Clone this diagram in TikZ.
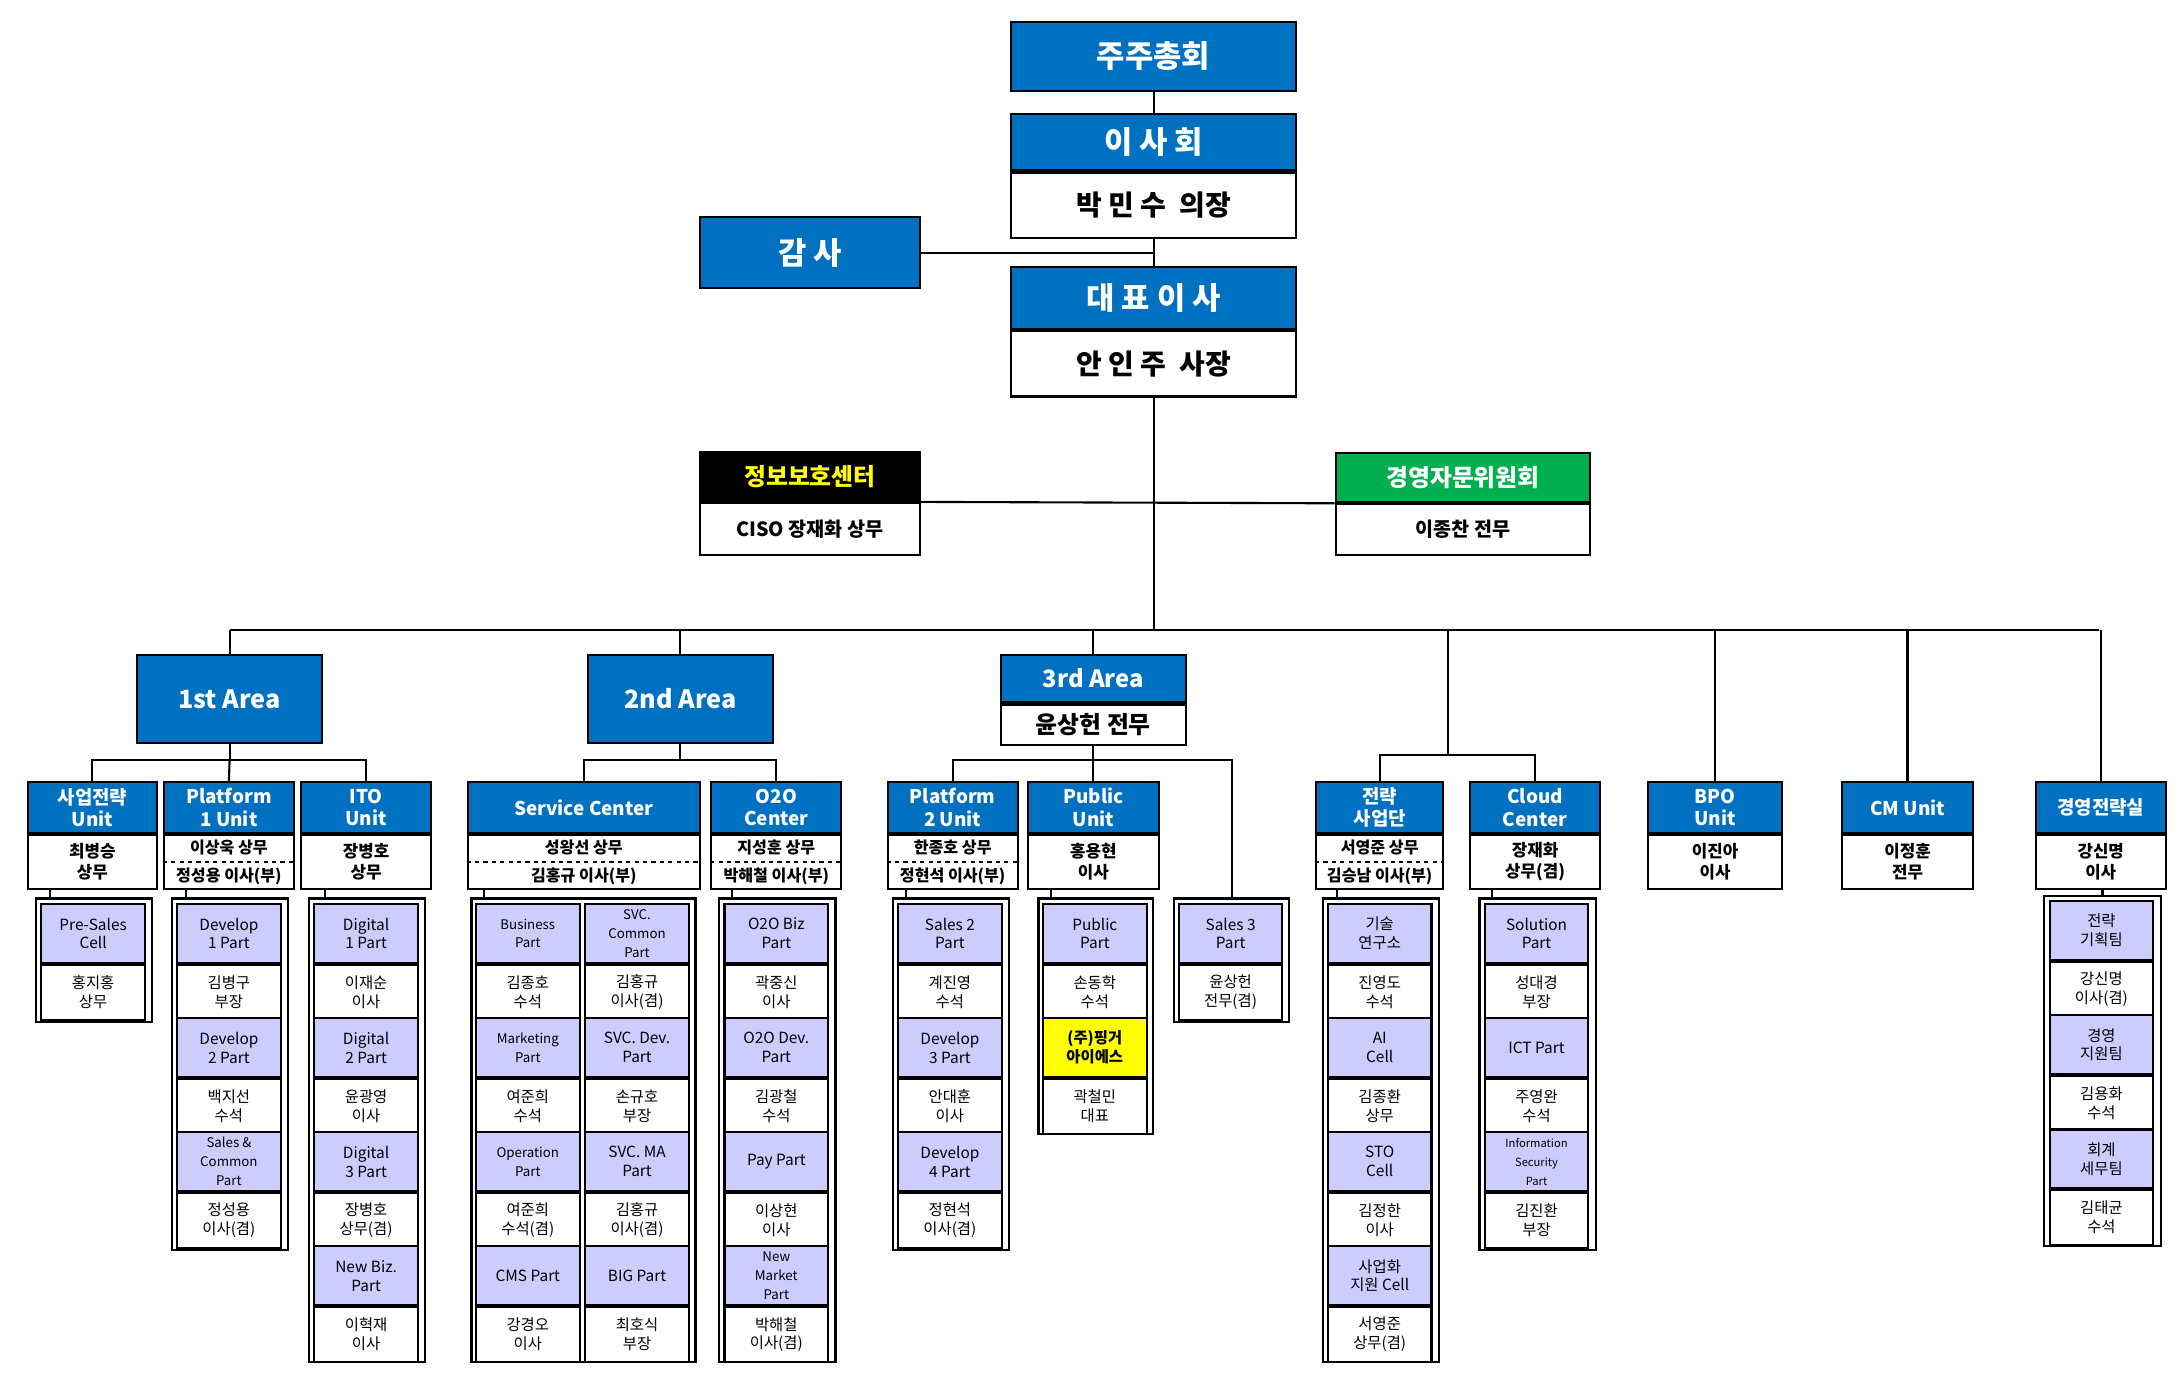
\documentclass[tikz,border=0pt]{standalone}
\usepackage{fontspec}
\setmainfont{Noto Sans CJK KR}
\definecolor{myblue}{RGB}{0,112,192}
\definecolor{lav}{RGB}{204,204,255}
\definecolor{mygreen}{RGB}{0,176,80}
\definecolor{myyel}{RGB}{255,255,0}
\tikzset{
 bx/.style={draw=black,line width=1.5pt,inner sep=0pt,align=center},
 top/.style={bx,fill=myblue,text=white,font=\fontsize{22}{26}\selectfont\bfseries,minimum width=204pt},
 topw/.style={bx,fill=white,font=\fontsize{20}{24}\selectfont\bfseries,minimum width=204pt},
 ub/.style={bx,fill=myblue,text=white,font=\fontsize{13.5}{16}\selectfont\bfseries,minimum height=36pt},
 uw/.style={bx,fill=white,font=\fontsize{12}{15}\selectfont\bfseries,minimum height=39pt},
 ut/.style={inner sep=0pt,font=\fontsize{11.5}{14}\selectfont\bfseries},
 cb/.style={bx,fill=lav,font=\fontsize{11}{13.5}\selectfont,minimum width=74pt,minimum height=42pt},
 cw/.style={bx,fill=white,font=\fontsize{11}{13.5}\selectfont,minimum width=74pt,minimum height=39pt},
 cont/.style={draw=black,line width=1.5pt,inner sep=0pt},
 ln/.style={draw=black,line width=1.5pt},
}
\newcommand\Unit[5]{\node[ub,minimum width=#3,anchor=north] (#1) at (#2,558) {#4};
 \node[uw,minimum width=#3,anchor=north] (#1w) at (#1.south) {#5};}
\newcommand\UnitTwo[6]{\node[ub,minimum width=#3,anchor=north] (#1) at (#2,558) {#4};
 \node[uw,minimum width=#3,anchor=north] (#1w) at (#1.south) {};
 \draw[dashed,line width=1.2pt] (#1w.west) -- (#1w.east);
 \node[ut] (#1p) at ([yshift=-9.75pt]#1w.north) {#5};
 \node[ut] (#1q) at ([yshift=9.75pt]#1w.south) {#6};}
\newcommand\Cell[6][]{\node[cb,anchor=north,#1] (#2) at (#3,#4) {#5};
 \node[cw,anchor=north] (#2w) at (#2.south) {#6};}
\newcommand\sm{\fontsize{9.5}{11.5}\selectfont}
\newcommand\tn{\fontsize{8}{9.5}\selectfont}
\begin{document}
\begin{tikzpicture}[x=1pt,y=-1pt]
\useasboundingbox (0,0) rectangle (1560,981);
% top
\node[top,minimum height=49pt,anchor=north] (jj) at (824,15) {주주총회};
\node[top,minimum height=40pt,anchor=north] (is) at (824,81) {이 사 회};
\node[topw,minimum height=47pt,anchor=north] (isw) at (is.south) {박 민 수 \ 의장};
\node[top,minimum width=157pt,minimum height=51pt] (gs) at (578.5,180.5) {감 사};
\node[top,minimum height=44pt,anchor=north] (ceo) at (824,190) {대 표 이 사};
\node[topw,minimum height=47pt,anchor=north] (ceow) at (ceo.south) {안 인 주 \ 사장};
\node[bx,fill=black,text=myyel,font=\fontsize{17}{20}\selectfont\bfseries,minimum width=157pt,minimum height=35pt,anchor=north] (sec) at (578.5,322) {정보보호센터};
\node[bx,fill=white,font=\fontsize{14}{17}\selectfont\bfseries,minimum width=157pt,minimum height=37pt,anchor=north] (secw) at (sec.south) {CISO 장재화 상무};
\node[bx,fill=mygreen,text=white,font=\fontsize{17}{20}\selectfont\bfseries,minimum width=182pt,minimum height=35pt,anchor=north] (adv) at (1045,323) {경영자문위원회};
\node[bx,fill=white,font=\fontsize{14}{17}\selectfont\bfseries,minimum width=182pt,minimum height=36pt,anchor=north] (advw) at (adv.south) {이종찬 전무};
\coordinate (bus) at (824,450);
\coordinate (bL) at (164,450);
\coordinate (bR) at (1499,450);
\draw[ln] (jj.south) -- (is.north);
\draw[ln] (isw.south) -- (ceo.north);
\draw[ln] (gs.east) -- (gs.east -| ceo.north);
\draw[ln] (ceow.south) -- (bus);
\draw[ln] (sec.south east) -- (adv.south west);
\draw[ln] (bL) -- (bR);
% areas
\node[bx,fill=myblue,text=white,font=\fontsize{18}{21}\selectfont\bfseries,minimum width=132pt,minimum height=63pt,anchor=north] (a1) at (164,467) {1st Area};
\node[bx,fill=myblue,text=white,font=\fontsize{18}{21}\selectfont\bfseries,minimum width=132pt,minimum height=63pt,anchor=north] (a2) at (486,467) {2nd Area};
\node[bx,fill=myblue,text=white,font=\fontsize{17}{20}\selectfont\bfseries,minimum width=132pt,minimum height=34pt,anchor=north] (a3) at (781,467) {3rd Area};
\node[bx,fill=white,font=\fontsize{17}{20}\selectfont\bfseries,minimum width=132pt,minimum height=29pt,anchor=north] (a3w) at (a3.south) {윤상헌 전무};
\draw[ln] (a1.north |- bL) -- (a1.north);
\draw[ln] (a2.north |- bL) -- (a2.north);
\draw[ln] (a3.north |- bL) -- (a3.north);
% units
\Unit{u1}{66}{92pt}{사업전략\\Unit}{최병승\\상무}
\UnitTwo{u2}{163.5}{93pt}{Platform\\1 Unit}{이상욱 상무}{정성용 이사(부)}
\Unit{u3}{261.5}{93pt}{ITO\\Unit}{장병호\\상무}
\UnitTwo{u4}{417}{166pt}{Service Center}{성왕선 상무}{김홍규 이사(부)}
\UnitTwo{u5}{554.5}{93pt}{O2O\\Center}{지성훈 상무}{박해철 이사(부)}
\UnitTwo{u6}{680.5}{93pt}{Platform\\2 Unit}{한종호 상무}{정현석 이사(부)}
\Unit{u7}{781}{94pt}{Public\\Unit}{홍용현\\이사}
\UnitTwo{u8}{985.5}{91pt}{전략\\사업단}{서영준 상무}{김승남 이사(부)}
\Unit{u9}{1096.5}{93pt}{Cloud\\Center}{장재화\\상무(겸)}
\Unit{u10}{1225}{96pt}{BPO\\Unit}{이진아\\이사}
\Unit{u11}{1362.5}{93pt}{CM Unit}{이정훈\\전무}
\Unit{u12}{1500.5}{93pt}{경영전략실}{강신명\\이사}
% containers
\node[cont,minimum width=83pt,minimum height=88pt,anchor=north west] (c1) at (25,641) {};
\node[cont,minimum width=83pt,minimum height=251pt,anchor=north west] (c2) at (122,641) {};
\node[cont,minimum width=83pt,minimum height=331pt,anchor=north west] (c3) at (220,641) {};
\node[cont,minimum width=160pt,minimum height=331pt,anchor=north west] (c4) at (336,641) {};
\node[cont,minimum width=83pt,minimum height=331pt,anchor=north west] (c5) at (513,641) {};
\node[cont,minimum width=83pt,minimum height=251pt,anchor=north west] (c6) at (637,641) {};
\node[cont,minimum width=82pt,minimum height=168pt,anchor=north west] (c7) at (741,641) {};
\node[cont,minimum width=82pt,minimum height=88pt,anchor=north west] (c8) at (838,641) {};
\node[cont,minimum width=83pt,minimum height=331pt,anchor=north west] (c9) at (944,641) {};
\node[cont,minimum width=83pt,minimum height=251pt,anchor=north west] (c10) at (1056,641) {};
\node[cont,minimum width=84pt,minimum height=250pt,anchor=north west] (c11) at (1459,639) {};
% sub buses
\coordinate (s1) at (164,543);
\coordinate (s2) at (486,543);
\coordinate (s3) at (781,543);
\coordinate (s4t) at (1034,450);
\coordinate (s4) at (1034,539);
\draw[ln] (a1.south) -- (s1);
\draw[ln] (u1.north) |- (s1) -| (u3.north);
\draw[ln] (s1) -- (u2.north);
\draw[ln] (a2.south) -- (s2);
\draw[ln] (u4.north) |- (s2) -| (u5.north);
\draw[ln] (a3w.south) -- (s3);
\draw[ln] (u6.north) |- (s3) -| (c8.north);
\draw[ln] (s3) -- (u7.north);
\draw[ln] (s4t) -- (s4);
\draw[ln] (u8.north) |- (s4) -| (u9.north);
\draw[ln] (u10.north |- bL) -- (u10.north);
\draw[ln] (u11.north |- bL) -- (u11.north);
\draw[ln] (u12.north |- bL) -- (u12.north);
% unit to container
\draw[ln] ([xshift=11pt]c1.north west) -- ([xshift=11pt]c1.north west |- u1w.south);
\draw[ln] ([xshift=11pt]c2.north west) -- ([xshift=11pt]c2.north west |- u2w.south);
\draw[ln] ([xshift=12pt]c3.north west) -- ([xshift=12pt]c3.north west |- u3w.south);
\draw[ln] ([xshift=10pt]c4.north west) -- ([xshift=10pt]c4.north west |- u4w.south);
\draw[ln] ([xshift=10pt]c5.north west) -- ([xshift=10pt]c5.north west |- u5w.south);
\draw[ln] ([xshift=10pt]c6.north west) -- ([xshift=10pt]c6.north west |- u6w.south);
\draw[ln] ([xshift=10pt]c7.north west) -- ([xshift=10pt]c7.north west |- u7w.south);
\draw[ln] ([xshift=11pt]c9.north west) -- ([xshift=11pt]c9.north west |- u8w.south);
\draw[ln] ([xshift=10pt]c10.north west) -- ([xshift=10pt]c10.north west |- u9w.south);
\draw[ln] (c11.north) -- (c11.north |- u12w.south);
% cells
\Cell{p11}{66.5}{645}{Pre-Sales\\Cell}{홍지홍\\상무}
\Cell{p21}{163.5}{645}{Develop\\1 Part}{김병구\\부장}
\Cell{p22}{163.5}{726.5}{Develop\\2 Part}{백지선\\수석}
\Cell{p23}{163.5}{808}{{\sm Sales \&}\\{\sm Common}\\{\sm Part}}{정성용\\이사(겸)}
\Cell{p31}{261.5}{645}{Digital\\1 Part}{이재순\\이사}
\Cell{p32}{261.5}{726.5}{Digital\\2 Part}{윤광영\\이사}
\Cell{p33}{261.5}{808}{Digital\\3 Part}{장병호\\상무(겸)}
\Cell{p34}{261.5}{889.5}{New Biz.\\Part}{이혁재\\이사}
\Cell{p41}{377}{645}{{\sm Business}\\{\sm Part}}{김종호\\수석}
\Cell{p42}{377}{726.5}{{\sm Marketing}\\{\sm Part}}{여준희\\수석}
\Cell{p43}{377}{808}{{\sm Operation}\\{\sm Part}}{여준희\\수석(겸)}
\Cell{p44}{377}{889.5}{CMS Part}{강경오\\이사}
\Cell{p45}{455}{645}{{\sm SVC.}\\{\sm Common}\\{\sm Part}}{김홍규\\이사(겸)}
\Cell{p46}{455}{726.5}{SVC. Dev.\\Part}{손규호\\부장}
\Cell{p47}{455}{808}{SVC. MA\\Part}{김홍규\\이사(겸)}
\Cell{p48}{455}{889.5}{BIG Part}{최호식\\부장}
\Cell{p51}{554.5}{645}{O2O Biz\\Part}{곽중신\\이사}
\Cell{p52}{554.5}{726.5}{O2O Dev.\\Part}{김광철\\수석}
\Cell{p53}{554.5}{808}{Pay Part}{이상현\\이사}
\Cell{p54}{554.5}{889.5}{{\sm New}\\{\sm Market}\\{\sm Part}}{박해철\\이사(겸)}
\Cell{p61}{678.5}{645}{Sales 2\\Part}{계진영\\수석}
\Cell{p62}{678.5}{726.5}{Develop\\3 Part}{안대훈\\이사}
\Cell{p63}{678.5}{808}{Develop\\4 Part}{정현석\\이사(겸)}
\Cell{p71}{782}{645}{Public\\Part}{손동학\\수석}
\Cell[fill=myyel,font=\fontsize{11}{13.5}\selectfont\bfseries]{p72}{782}{726.5}{(주)핑거\\아이에스}{곽철민\\대표}
\Cell{p81}{879}{645}{Sales 3\\Part}{윤상헌\\전무(겸)}
\Cell{p91}{985.5}{645}{기술\\연구소}{진영도\\수석}
\Cell{p92}{985.5}{726.5}{AI\\Cell}{김종환\\상무}
\Cell{p93}{985.5}{808}{STO\\Cell}{김정한\\이사}
\Cell{p94}{985.5}{889.5}{사업화\\지원 Cell}{서영준\\상무(겸)}
\Cell{pa1}{1097.5}{645}{Solution\\Part}{성대경\\부장}
\Cell{pa2}{1097.5}{726.5}{ICT Part}{주영완\\수석}
\Cell{pa3}{1097.5}{808}{{\tn Information}\\{\tn Security}\\{\tn Part}}{김진환\\부장}
\Cell{pb1}{1501}{643}{전략\\기획팀}{강신명\\이사(겸)}
\Cell{pb2}{1501}{724.5}{경영\\지원팀}{김용화\\수석}
\Cell{pb3}{1501}{806}{회계\\세무팀}{김태균\\수석}
\end{tikzpicture}
\end{document}
